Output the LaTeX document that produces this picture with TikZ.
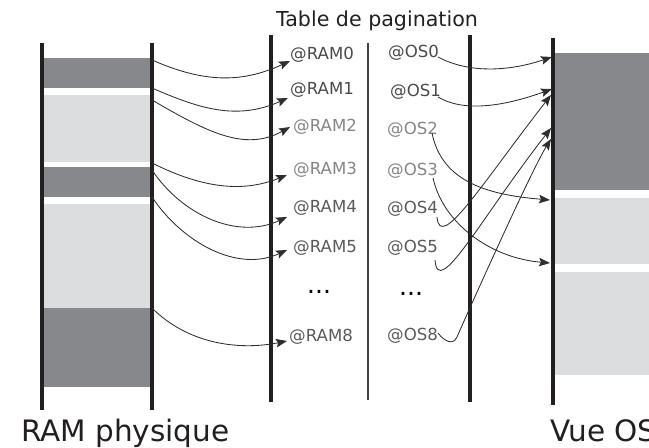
\documentclass[tikz,border=0pt]{standalone}
\usepackage{fontspec}
\setmainfont{DejaVu Sans}
\usetikzlibrary{arrows.meta}
\definecolor{memline}{HTML}{231F20}
\definecolor{pagedark}{HTML}{87888C}
\definecolor{pagelight}{HTML}{DCDDDF}
\definecolor{labdark}{HTML}{4A4A4A}
\definecolor{labmid}{HTML}{5A5A5A}
\definecolor{lablight}{HTML}{858585}
\definecolor{linkcol}{HTML}{2E2E2E}

\begin{document}
\begin{tikzpicture}[x=1bp,y=1bp,
  rail/.style={line width=3.2bp, draw=memline},
  thinrail/.style={line width=1.3bp, draw=memline!85!white},
  darkpage/.style={fill=pagedark},
  lightpage/.style={fill=pagelight},
  addr/.style={anchor=base west, inner sep=0pt, font=\fontsize{16.6bp}{18bp}\selectfont},
  etc/.style={anchor=base west, inner sep=0pt, font=\fontsize{25bp}{27bp}\selectfont, text=black},
  link/.style={draw=linkcol, line width=0.85bp, -{Stealth[length=11bp,width=8.5bp,inset=2bp]}},
  caption/.style={anchor=base west, inner sep=0pt, font=\fontsize{29.5bp}{31bp}\selectfont, text=memline}
]
\useasboundingbox (0,0) rectangle (649,448);

% physical RAM: page frames
\fill[darkpage]  (44,390) rectangle (150,360);
\fill[lightpage] (44,353) rectangle (150,286);
\fill[darkpage]  (44,281) rectangle (150,251);
\fill[lightpage] (44,244) rectangle (150,140);
\fill[darkpage]  (44,140) rectangle (150,61);
\draw[rail] (42,405) -- (42,38);
\draw[rail] (152,405) -- (152,38);

% OS view of the memory
\fill[darkpage]  (555,395) rectangle (660,258);
\fill[lightpage] (555,250) rectangle (660,184);
\fill[lightpage] (555,176) rectangle (660,73);
\draw[rail] (553,410) -- (553,43);

% page table
\draw[rail] (271,413) -- (271,46);
\draw[thinrail] (368,405) -- (368,48);
\draw[rail] (470,413) -- (470,46);
\node[anchor=base, inner sep=0pt, font=\fontsize{20.6bp}{22bp}\selectfont, text=memline] (title) at (377,421) {Table de pagination};

% physical addresses
\node[addr, text=labdark]  (ram0) at (290,388) {@RAM0};
\node[addr, text=labdark]  (ram1) at (290,353) {@RAM1};
\node[addr, text=lablight] (ram2) at (293,316) {@RAM2};
\node[addr, text=lablight] (ram3) at (293,273) {@RAM3};
\node[addr, text=labmid]   (ram4) at (293,235) {@RAM4};
\node[addr, text=labmid]   (ram5) at (293,195) {@RAM5};
\node[etc] (ramdots) at (307,154) {...};
\node[addr, text=labmid]   (ram8) at (289,106) {@RAM8};

% OS addresses
\node[addr, text=labdark]  (os0) at (388,390) {@OS0};
\node[addr, text=labdark]  (os1) at (390,351) {@OS1};
\node[addr, text=lablight] (os2) at (387,313) {@OS2};
\node[addr, text=lablight] (os3) at (387,272) {@OS3};
\node[addr, text=labmid]   (os4) at (387,234) {@OS4};
\node[addr, text=labmid]   (os5) at (387,195) {@OS5};
\node[etc] (osdots) at (399,152) {...};
\node[addr, text=labmid]   (os8) at (387,107) {@OS8};

% captions
\node[caption] (ramcap) at (21,6) {RAM physique};
\node[caption] (oscap) at (550,6) {Vue OS};

% link end points: frame edges and table entries
\coordinate (p0) at (152,388);
\coordinate (p1) at (152,360);
\coordinate (p2) at (152,348);
\coordinate (p3) at (152,285);
\coordinate (p4) at (152,278);
\coordinate (p5) at (152,251);
\coordinate (p8) at (152,140);
\coordinate (t0) at (290,387);
\coordinate (t1) at (288,350);
\coordinate (t2) at (290,321);
\coordinate (t3) at (287,273);
\coordinate (t4) at (287,231);
\coordinate (t5) at (287,198);
\coordinate (t8) at (287,107);

\coordinate (s0) at (438,391);
\coordinate (s1) at (438,351);
\coordinate (s2) at (432,315);
\coordinate (s3) at (433,270);
\coordinate (s4) at (437,231);
\coordinate (s5) at (435,188);
\coordinate (s8) at (438,115);
\coordinate (v0) at (552,391);
\coordinate (v1) at (552,359);
\coordinate (v2) at (550,248);
\coordinate (v3) at (550,185);
\coordinate (v4) at (551,353);
\coordinate (v5) at (551,320);
\coordinate (v8) at (551,309);

% RAM frames -> page table entries
\draw[link] (p0) .. controls +(50,-22) and +(-50,-23) .. (t0);
\draw[link] (p1) .. controls +(50,-22) and +(-50,-22) .. (t1);
\draw[link] (p2) .. controls +(55,-32) and +(-45,-25) .. (t2);
\draw[link] (p3) .. controls +(50,-25) and +(-45,-18) .. (t3);
\draw[link] (p4) .. controls +(30,-45) and +(-50,-23) .. (t4);
\draw[link] (p5) .. controls +(30,-45) and +(-50,-23) .. (t5);
\draw[link] (p8) .. controls +(35,-35) and +(-50,-10) .. (t8);

% page table entries -> OS view
\draw[link] (s0) .. controls +(30,-16) and +(-45,-15) .. (v0);
\draw[link] (s1) .. controls +(25,-15) and +(-50,-18) .. (v1);
\draw[link] (s2) .. controls +(10,-50) and +(-60,5) .. (v2);
\draw[link] (s3) .. controls +(10,-45) and +(-60,5) .. (v3);
\draw[link] (s4) .. controls +(3,-35) and +(-70,-90) .. (v4);
\draw[link] (s5) .. controls +(3,-40) and +(-70,-90) .. (v5);
\draw[link] (s8) .. controls +(6,-8) and +(-4,-9) .. ++(19,-4)
                 .. controls +(10,23) and +(-20,-32) .. (v8);
\end{tikzpicture}
\end{document}
